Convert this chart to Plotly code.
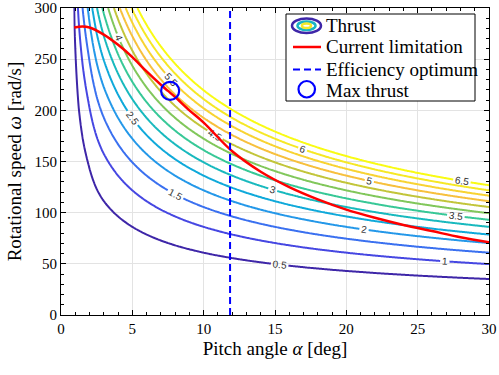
import numpy as np
import plotly.graph_objects as go

# ---- data ----
# Thrust model T = K * g(alpha) * omega^2, g read off the contour positions
alpha_tab = [0.85, 0.91, 1.24, 1.54, 1.89, 2.19, 2.52, 2.9, 4, 6, 10, 20, 30]
g_tab = [0.2, 0.41, 0.9, 1.27, 1.67, 2.06, 2.47, 2.89, 4, 6, 10, 20, 30]
K_thrust = 1.348e-5
levels_start, levels_end, levels_step = 0.5, 6.5, 0.5

# current limitation curve
cur_alpha = [0.93, 1.5, 2, 3, 4, 5, 6, 7, 7.5, 8, 9, 10, 12, 14, 16, 18, 20, 22, 24, 26, 28, 30]
cur_omega = [281, 282, 281, 274, 264, 252, 238, 225, 219, 213, 200, 188, 160, 140, 125, 113,
             103, 95, 88, 82, 76, 71]

# efficiency optimum
eff_alpha = 11.85
# max thrust point
max_alpha, max_omega = 7.65, 219

legend_labels = ["Thrust", "Current limitation", "Efficiency optimum", "Max thrust"]

# ---- field ----
alpha_grid = np.linspace(0.85, 30, 300)
omega_grid = np.linspace(0, 300, 301)
g_grid = np.interp(alpha_grid, alpha_tab, g_tab)
Z = K_thrust * g_grid[None, :] * omega_grid[:, None] ** 2

parula = [
    [0.0, "#3e26a8"], [0.11, "#4852f4"], [0.24, "#2796eb"], [0.37, "#06b0d4"],
    [0.5, "#37c897"], [0.63, "#abc739"], [0.76, "#fdbf3d"], [0.89, "#f5e22a"],
    [1.0, "#f9fb14"],
]

serif = "Liberation Serif, Times New Roman, serif"
RED, BLUE, DARK = "#ff0000", "#0000ff", "#3e26a8"

fig = go.Figure()
fig.add_trace(go.Contour(
    x=alpha_grid, y=omega_grid, z=Z,
    autocontour=False,
    contours=dict(start=levels_start, end=levels_end, size=levels_step,
                  coloring="lines", showlabels=True, labelformat="~g",
                  labelfont=dict(size=10, color="#333333",
                                 family="Liberation Sans, Arial, sans-serif")),
    colorscale=parula, zmin=levels_start, zmax=levels_end,
    line=dict(width=2), showscale=False, showlegend=False, hoverinfo="skip",
))
fig.add_trace(go.Scatter(x=cur_alpha, y=cur_omega, mode="lines", name=legend_labels[1],
                         line=dict(color=RED, width=2.5, shape="spline"), showlegend=False))
fig.add_trace(go.Scatter(x=[eff_alpha, eff_alpha], y=[0, 300], mode="lines",
                         name=legend_labels[2], showlegend=False,
                         line=dict(color=BLUE, width=2, dash="7px,4px")))
fig.add_trace(go.Scatter(x=[max_alpha], y=[max_omega], mode="markers", name=legend_labels[3],
                         showlegend=False,
                         marker=dict(symbol="circle-open", size=18, color=BLUE,
                                     line=dict(width=2.2, color=BLUE))))

axis_common = dict(
    showline=True, linecolor="black", linewidth=1, mirror="ticks",
    ticks="inside", ticklen=5, tickcolor="black", tickwidth=1,
    showgrid=True, gridcolor="#e3e3e3", gridwidth=1, zeroline=False,
    tickfont=dict(family=serif, size=15, color="black"), automargin=False,
    ticklabeloverflow="allow",
)
fig.update_xaxes(range=[0, 30], dtick=5, tick0=0,
                 minor=dict(dtick=1, ticks="inside", ticklen=3, tickcolor="black", showgrid=False),
                 title=dict(text="Pitch angle <i>α</i> [deg]",
                            font=dict(family=serif, size=19, color="black"), standoff=5),
                 **axis_common)
fig.update_yaxes(range=[0, 300], dtick=50, tick0=0,
                 minor=dict(dtick=10, ticks="inside", ticklen=3, tickcolor="black", showgrid=False),
                 title=dict(text="Rotational speed <i>ω</i> [rad/s]",
                            font=dict(family=serif, size=19, color="black"), standoff=7),
                 **axis_common)

# ---- hand-made legend box (pixel layout converted to paper coords) ----
L, T, W, H = 61, 8, 428, 307
def px(xp):
    return (xp - L) / W
def py(yp):
    return (T + H - yp) / H

shapes = [
    dict(type="rect", xref="paper", yref="paper", x0=px(286), x1=px(475), y0=py(101), y1=py(14),
         line=dict(color="black", width=1), fillcolor="white", layer="above"),
    # thrust icon: concentric ellipses
    dict(type="circle", xref="paper", yref="paper", x0=px(292), x1=px(321), y0=py(33), y1=py(18.5),
         line=dict(color=DARK, width=2.5), layer="above"),
    dict(type="circle", xref="paper", yref="paper", x0=px(297.5), x1=px(315.5), y0=py(30), y1=py(21.5),
         line=dict(color="#1ab4c4", width=2.5), layer="above"),
    dict(type="circle", xref="paper", yref="paper", x0=px(302), x1=px(311), y0=py(28), y1=py(23.5),
         line=dict(color="#f5e82a", width=2.5), layer="above"),
    # current limitation line
    dict(type="line", xref="paper", yref="paper", x0=px(293), x1=px(321), y0=py(47), y1=py(47),
         line=dict(color=RED, width=2.5), layer="above"),
    # efficiency optimum dashed
    dict(type="line", xref="paper", yref="paper", x0=px(293), x1=px(321), y0=py(69.5), y1=py(69.5),
         line=dict(color=BLUE, width=2, dash="7px,4px"), layer="above"),
    # max thrust circle
    dict(type="circle", xref="paper", yref="paper", x0=px(298.5), x1=px(315), y0=py(97.5), y1=py(81),
         line=dict(color=BLUE, width=2.2), layer="above"),
]
row_y = [25, 47, 69, 90]
annotations = [
    dict(text=t, xref="paper", yref="paper", x=px(324), y=py(yy), xanchor="left", yanchor="middle",
         showarrow=False, font=dict(family=serif, size=19, color="black"))
    for t, yy in zip(legend_labels, row_y)
]

fig.update_layout(
    width=499, height=375,
    margin=dict(l=61, r=10, t=8, b=60),
    paper_bgcolor="white", plot_bgcolor="white",
    showlegend=False, shapes=shapes, annotations=annotations,
)

fig.write_html("out.html", config={"displayModeBar": False},
               post_script="document.body.style.margin='0';")
